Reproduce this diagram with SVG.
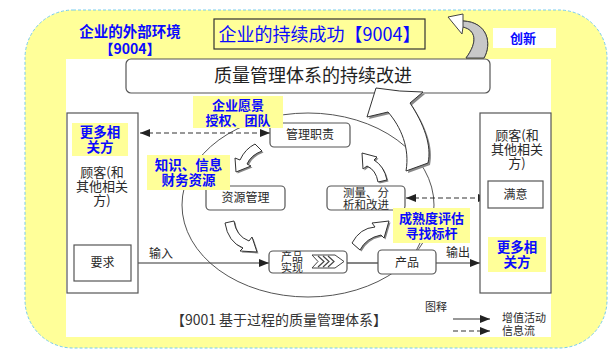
<svg xmlns="http://www.w3.org/2000/svg" width="610" height="349" viewBox="0 0 610 349">
<defs>
<style>
.cjk{font-family:"Noto Sans CJK SC","Liberation Sans",sans-serif;}
.blue{fill:#0a0aff;font-weight:bold;font-size:13px;text-anchor:middle;}
.box{fill:#fff;stroke:#555;stroke-width:1.2;}
.lbl{fill:#ffff99;}
.t{fill:#2a2a2a;font-size:12px;text-anchor:middle;}
.big{fill:#2a2a2a;font-size:13px;text-anchor:middle;}
.ln{stroke:#333;stroke-width:1.2;fill:none;}
.dash{stroke:#333;stroke-width:1.2;fill:none;stroke-dasharray:5,3;}
.ca{fill:#fff;stroke:#333;stroke-width:1;stroke-linejoin:round;}
.cs{fill:#888;}
</style>
<marker id="ae" markerWidth="10" markerHeight="8" refX="10" refY="4" orient="auto" markerUnits="userSpaceOnUse"><path d="M0,0 L10,4 L0,8 Z" fill="#222"/></marker>
<marker id="as" markerWidth="10" markerHeight="8" refX="0" refY="4" orient="auto" markerUnits="userSpaceOnUse"><path d="M10,0 L0,4 L10,8 Z" fill="#222"/></marker>
</defs>

<g id="background">
<rect x="25" y="10" width="582" height="338" rx="48" fill="#ffff99" stroke="#77ccee" stroke-width="1" stroke-dasharray="3,2"/>
<rect x="66" y="59" width="485" height="278" fill="#fff"/>
</g>

<g id="ext-env">
<text class="cjk blue" x="130" y="37" style="font-size:14.5px">企业的外部环境</text>
<text class="cjk blue" x="130" y="54" style="font-size:14px">【9004】</text>
</g>

<g id="title">
<rect x="214" y="19" width="211" height="30" fill="#ffff99" stroke="#333" stroke-width="1.2"/>
<text class="cjk" x="319.5" y="41" fill="#0a0aff" font-size="18" text-anchor="middle">企业的持续成功【9004】</text>
</g>

<g id="innovation">
<rect x="493" y="28" width="63" height="20" fill="#fff"/>
<text class="cjk blue" x="523" y="43">创新</text>
</g>

<g id="innovation-arrow">
<path d="M448,17 L462,34 L463,27 C476,30 478,42 466,58 L484,58 C492,44 488,22 463,21 L463,14 Z" fill="#fff" stroke="#444" stroke-width="1"/>
<path d="M463,27 C476,30 478,42 466,58 L484,58 C492,44 488,22 463,21 Z" fill="#c8c8c8" stroke="#444" stroke-width="1"/>
</g>

<g id="qms">
<rect x="126" y="59" width="364" height="34" rx="5" class="box"/>
<text class="cjk" x="313" y="82" fill="#222" font-size="18" text-anchor="middle">质量管理体系的持续改进</text>
</g>

<g id="cycle">
<ellipse cx="308" cy="205" rx="126" ry="92" fill="none" stroke="#555" stroke-width="1"/>
</g>

<g id="big-arrow">
<path d="M369,119 L378,90 Q402,94 425,94 L412,105 C426,126 434,148 430,165 L408,173 C412,150 403,129 390,114 Z" class="cs"/>
<path d="M367,117 L376,88 Q400,92 423,92 L410,103 C424,124 432,146 428,163 L406,171 C410,148 401,127 388,112 Z" class="ca"/>
</g>

<g id="cycle-arrows">
<path d="M256.5,145.5 L263.5,152.5 Q252.5,156.5 248.5,165.5 L252.5,167.5 L237.5,173.5 L236.5,159.5 L241.5,161.5 Q246.5,150.5 256.5,145.5 Z" class="cs"/>
<path d="M255,144 L262,151 Q251,155 247,164 L251,166 L236,172 L235,158 L240,160 Q245,149 255,144 Z" class="ca"/>
<path d="M226.5,224.5 L235.5,222.5 Q237.5,237.5 250.5,242.5 L253.5,238.5 L258.5,253.5 L241.5,252.5 L244.5,249.5 Q229.5,243.5 226.5,224.5 Z" class="cs"/>
<path d="M225,223 L234,221 Q236,236 249,241 L252,237 L257,252 L240,251 L243,248 Q228,242 225,223 Z" class="ca"/>
<path d="M353.5,244.5 Q361.5,229.5 376.5,228.5 L373.5,224.5 L390.5,222.5 L385.5,239.5 L382.5,236.5 Q367.5,239.5 361.5,251.5 Z" class="cs"/>
<path d="M352,243 Q360,228 375,227 L372,223 L389,221 L384,238 L381,235 Q366,238 360,250 Z" class="ca"/>
<path d="M388.5,181.5 Q385.5,167.5 375.5,161.5 L378.5,158.5 L363.5,154.5 L364.5,170.5 L368.5,167.5 Q377.5,171.5 379.5,183.5 Z" class="cs"/>
<path d="M387,180 Q384,166 374,160 L377,157 L362,153 L363,169 L367,166 Q376,170 378,182 Z" class="ca"/>
</g>

<g id="connectors">
<line x1="140" y1="133" x2="270" y2="133" class="dash" marker-start="url(#as)" marker-end="url(#ae)"/>
<line x1="406" y1="198" x2="488" y2="198" class="dash" marker-start="url(#as)" marker-end="url(#ae)"/>
<line x1="131" y1="263" x2="269" y2="263" class="ln" marker-end="url(#ae)"/>
<line x1="347" y1="263" x2="378" y2="263" class="ln"/>
<line x1="436" y1="263" x2="480" y2="263" class="ln" marker-end="url(#ae)"/>
<line x1="420" y1="243" x2="416" y2="251" stroke="#555" stroke-width="1"/>
<text class="cjk t" x="161" y="258">输入</text>
<text class="cjk t" x="458" y="257">输出</text>
</g>

<g id="customer-left">
<rect x="67" y="113" width="71" height="180" class="box"/>
<text class="cjk big" x="102" y="177">顾客(和</text>
<text class="cjk big" x="102" y="191">其他相关</text>
<text class="cjk big" x="102" y="205">方)</text>
</g>
<g id="requirement">
<rect x="74" y="245" width="57" height="36" class="box"/>
<text class="cjk t" x="102.5" y="267">要求</text>
</g>

<g id="customer-right">
<rect x="480" y="113" width="71" height="180" class="box"/>
<text class="cjk big" x="517" y="140">顾客(和</text>
<text class="cjk big" x="517" y="154">其他相关</text>
<text class="cjk big" x="517" y="168">方)</text>
</g>
<g id="satisfaction">
<rect x="488" y="181" width="55" height="27" class="box"/>
<text class="cjk t" x="515.5" y="198.5">满意</text>
</g>

<g id="mgmt">
<rect x="270" y="123" width="80" height="24" rx="4" class="box"/>
<text class="cjk t" x="310" y="139">管理职责</text>
</g>
<g id="resource">
<rect x="206" y="186" width="79" height="24" rx="4" class="box"/>
<text class="cjk t" x="245.5" y="202">资源管理</text>
</g>
<g id="measure">
<rect x="327" y="186" width="78" height="24" rx="4" class="box"/>
<text class="cjk t" x="366" y="197" style="font-size:11.5px">测量、分</text>
<text class="cjk t" x="366" y="209" style="font-size:11.5px">析和改进</text>
</g>
<g id="realization">
<rect x="269" y="251" width="78" height="22" rx="4" class="box"/>
<text class="cjk t" x="292" y="261" style="font-size:11px">产品</text>
<text class="cjk t" x="292" y="272" style="font-size:11px">实现</text>
<path d="M312,255 L335,255 L344,261.5 L335,268 L312,268 L318,261.5 Z" fill="#fff" stroke="#444" stroke-width="1"/>
<path d="M318,256 L324,261.5 L318,267 M323,256 L329,261.5 L323,267 M328,256 L334,261.5 L328,267" fill="none" stroke="#444" stroke-width="1.2"/>
</g>
<g id="product">
<rect x="378" y="250" width="58" height="24" rx="4" class="box"/>
<text class="cjk t" x="407" y="266.5">产品</text>
</g>

<g id="label-vision">
<rect x="193" y="96" width="90" height="32" class="lbl"/>
<text class="cjk blue" x="238" y="110">企业愿景</text>
<text class="cjk blue" x="238" y="125">授权、团队</text>
</g>
<g id="label-left-more">
<rect x="72" y="123" width="56" height="33" class="lbl"/>
<text class="cjk blue" x="100" y="137" style="font-size:13.5px">更多相</text>
<text class="cjk blue" x="100" y="152" style="font-size:13.5px">关方</text>
</g>
<g id="label-knowledge">
<rect x="147" y="155" width="83" height="35" class="lbl"/>
<text class="cjk blue" x="188.5" y="170" style="font-size:13.5px">知识、信息</text>
<text class="cjk blue" x="188.5" y="185" style="font-size:13.5px">财务资源</text>
</g>
<g id="label-maturity">
<rect x="393" y="208" width="77" height="35" class="lbl"/>
<text class="cjk blue" x="431.5" y="223">成熟度评估</text>
<text class="cjk blue" x="431.5" y="238">寻找标杆</text>
</g>
<g id="label-right-more">
<rect x="488" y="237" width="58" height="35" class="lbl"/>
<text class="cjk blue" x="517" y="252" style="font-size:13.5px">更多相</text>
<text class="cjk blue" x="517" y="267" style="font-size:13.5px">关方</text>
</g>

<g id="caption">
<text class="cjk" x="279" y="325" fill="#333" font-size="14" text-anchor="middle">【9001 基于过程的质量管理体系】</text>
</g>

<g id="legend">
<text class="cjk t" x="436" y="311" style="font-size:11px">图释</text>
<line x1="453" y1="319" x2="490" y2="319" class="ln" marker-end="url(#ae)"/>
<line x1="453" y1="331" x2="490" y2="331" class="dash" marker-end="url(#ae)"/>
<text class="cjk" x="502" y="322" fill="#2a2a2a" font-size="11">增值活动</text>
<text class="cjk" x="502" y="335" fill="#2a2a2a" font-size="11">信息流</text>
</g>
</svg>
